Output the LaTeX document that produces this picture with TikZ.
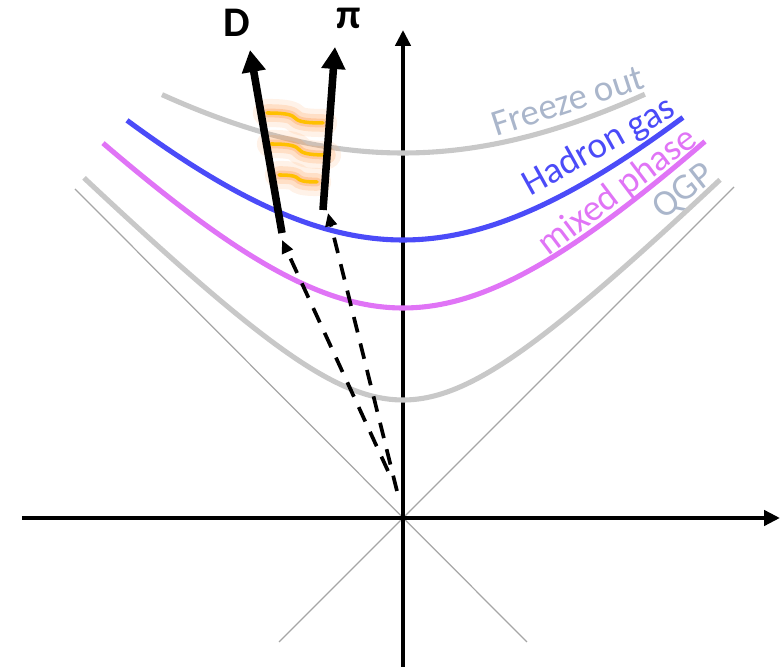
\documentclass[tikz,border=0pt]{standalone}
\usepackage{fontspec}
\setmainfont{Carlito}
\usetikzlibrary{arrows.meta}
\definecolor{curveGray}{HTML}{C8C8C8}
\definecolor{coneGray}{HTML}{A6A6A6}
\definecolor{hadronCol}{HTML}{4B4BF8}
\definecolor{mixedCol}{HTML}{E074F6}
\definecolor{labelGray}{HTML}{AAB6CB}
\definecolor{glowCol}{HTML}{FF9440}
\definecolor{wiggleCol}{HTML}{FFC000}

\begin{document}
\begin{tikzpicture}[
    x=2cm, y=2cm,
    >=Stealth,
    axisline/.style={line width=2.3pt, -{Triangle[length=9pt, width=8.5pt]}},
    coneline/.style={line width=0.7pt, draw=coneGray},
    curveline/.style={line width=2.9pt},
    curvelabel/.style={font=\fontsize{21}{23}\selectfont, anchor=center},
    particle/.style={line width=4.3pt, -{Triangle[length=12.5pt, width=13pt]}},
    flightpath/.style={line width=2.1pt, dash pattern=on 9pt off 6.5pt, -{Triangle[length=7.5pt, width=6.5pt]}},
    particlename/.style={font=\fontsize{24}{26}\selectfont\bfseries, anchor=base}
]
\useasboundingbox (-4.03,-1.51) rectangle (3.78,5.18);

% --- 1. LIGHT CONE AND AXES ---
\coordinate (O) at (0,0);
\coordinate (coneLL) at (-1.24,-1.24);
\coordinate (coneUR) at (3.31,3.31);
\coordinate (coneLR) at (1.24,-1.24);
\coordinate (coneUL) at (-3.28,3.29);
\draw[coneline] (coneLL) -- (coneUR);
\draw[coneline] (coneLR) -- (coneUL);

\coordinate (tBottom) at (0,-1.49);
\coordinate (tTop) at (0,4.88);
\coordinate (zLeft) at (-3.81,0);
\coordinate (zRight) at (3.77,0);
\draw[axisline] (zLeft) -- (zRight);
\draw[axisline] (tBottom) -- (tTop);

% --- 2. HYPERBOLAE ---
\draw[curveline, curveGray] plot[domain=-3.19:3.17, samples=80, smooth] (\x, {sqrt(1.18^2 + (\x)^2)});
\draw[curveline, mixedCol] plot[domain=-3.00:3.02, samples=80, smooth] (\x, {sqrt(2.10^2 + (1.035*\x)^2)});
\draw[curveline, hadronCol] plot[domain=-2.76:2.80, samples=80, smooth] (\x, {sqrt(2.78^2 + (1.03*\x)^2)});
\draw[curveline, curveGray] plot[domain=-2.41:2.42, samples=80, smooth] (\x, {sqrt(3.65^2 + (0.89*\x)^2)});

\node[curvelabel, labelGray, rotate=18] (freezeLabel) at (1.65,4.17) {Freeze out};
\node[curvelabel, hadronCol, rotate=29] (hadronLabel) at (1.96,3.71) {Hadron gas};
\node[curvelabel, mixedCol, rotate=37] (mixedLabel) at (2.15,3.26) {mixed phase};
\node[curvelabel, labelGray, rotate=38] (qgpLabel) at (2.81,3.26) {QGP};

% --- 3. GLOWING EXCHANGES ---
\foreach \sx/\sy/\ex/\ey/\c in {-1.36/4.05/-0.80/3.95/0.45, -1.32/3.74/-0.76/3.63/0.45, -1.24/3.43/-0.86/3.36/0.30} {
    \draw[glowCol, opacity=0.12, line width=16pt, line cap=round] (\sx,\sy) .. controls +(\c,0) and +(-\c,0) .. (\ex,\ey);
    \draw[glowCol, opacity=0.2, line width=10pt, line cap=round] (\sx,\sy) .. controls +(\c,0) and +(-\c,0) .. (\ex,\ey);
    \draw[glowCol, opacity=0.3, line width=5pt, line cap=round] (\sx,\sy) .. controls +(\c,0) and +(-\c,0) .. (\ex,\ey);
    \draw[wiggleCol, line width=2pt, line cap=round] (\sx,\sy) .. controls +(\c,0) and +(-\c,0) .. (\ex,\ey);
}

% --- 4. PARTICLES ---
\coordinate (Dstart) at (-0.15,0.47);
\coordinate (Dhit) at (-1.21,2.78);
\coordinate (Dtail) at (-1.21,2.85);
\coordinate (Dtip) at (-1.53,4.68);
\coordinate (Pistart) at (-0.06,0.27);
\coordinate (Pihit) at (-0.75,3.05);
\coordinate (Pitail) at (-0.80,3.08);
\coordinate (Pitip) at (-0.68,4.71);

\draw[flightpath] (Dstart) -- (Dhit);
\draw[flightpath] (Pistart) -- (Pihit);
\draw[particle] (Dtail) -- (Dtip);
\draw[particle] (Pitail) -- (Pitip);

\node[particlename] (Dname) at (-1.66,4.81) {D};
\node[particlename] (Piname) at (-0.54,4.89) {π};

\end{tikzpicture}
\end{document}
